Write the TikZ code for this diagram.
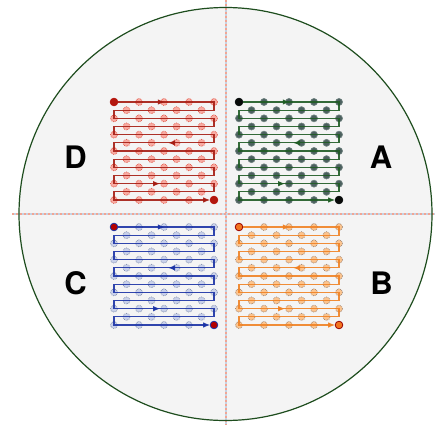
\documentclass[tikz,border=0pt]{standalone}
\usepackage{fontspec}
\setmainfont{TeX Gyre Heros}
\usetikzlibrary{arrows.meta,decorations.markings,calc}

\definecolor{ringgreen}{HTML}{1E4D1E}
\definecolor{diskgray}{HTML}{F4F4F4}
\definecolor{axisred}{HTML}{F2A593}
\definecolor{axisblue}{HTML}{C4D3E4}
% quadrant D (red)
\definecolor{dLine}{HTML}{A51C12}
\definecolor{dFill}{HTML}{F8ABA2}
\definecolor{dRim}{HTML}{E0503F}
% quadrant A (green)
\definecolor{aLine}{HTML}{1F5C24}
\definecolor{aFill}{HTML}{4B605E}
\definecolor{aRim}{HTML}{6F817F}
% quadrant C (blue)
\definecolor{cLine}{HTML}{1B33A6}
\definecolor{cFill}{HTML}{C9D1EA}
\definecolor{cRim}{HTML}{7A88A8}
% quadrant B (orange)
\definecolor{bLine}{HTML}{F08224}
\definecolor{bFill}{HTML}{FCC48E}
\definecolor{bRim}{HTML}{988070}

\tikzset{
  spot/.style={circle, inner sep=0pt, outer sep=0pt, minimum size=7pt, line width=0.7pt},
  dspot/.style={spot, fill=dFill, draw=dRim, densely dotted},
  aspot/.style={spot, fill=aFill, draw=aRim},
  cspot/.style={spot, fill=cFill, draw=cRim, densely dotted},
  bspot/.style={spot, fill=bFill, draw=bRim, densely dotted},
  bigspot/.style={circle, inner sep=0pt, outer sep=0pt, minimum size=7.6pt, line width=0.8pt},
  dbig/.style={bigspot, fill=dLine!85!red, draw=dLine!80!red},
  abig/.style={bigspot, fill=black!90!aFill, draw=black!85!aFill},
  cbig/.style={bigspot, fill=red!70!black, draw=cLine},
  bbig/.style={bigspot, fill=bLine!90!red, draw=red!60!black},
  scanline/.style={line width=1.1pt, draw opacity=0.9, -{Latex[length=7pt,width=5.5pt]},
    postaction=decorate,
    decoration={markings,
      mark=at position 47pt with {\arrow{Latex[length=7pt,width=5.5pt]}},
      mark=at position 583pt with {\arrow{Latex[length=7pt,width=5.5pt]}},
      mark=at position 1124pt with {\arrow{Latex[length=7pt,width=5.5pt]}}}},
  quadlabel/.style={font=\bfseries\fontsize{31}{31}\selectfont, inner sep=0pt}
}

% #1 name, #2 left x, #3 top y, #4 spot style, #5 line colour, #6 end-spot style
\newcommand\scanquad[6]{%
  \foreach \r in {0,...,12}{
    \coordinate (#1-L-\r) at (#2, #3+\r*98/12);
    \coordinate (#1-R-\r) at (#2+100, #3+\r*98/12);
  }
  \foreach \r in {0,2,...,12}{
    \foreach \c in {0,...,4}{
      \node[#4] (#1-p-\r-\c) at ($(#1-L-\r)+(25*\c,0)$) {};
    }
  }
  \foreach \r in {1,3,...,11}{
    \foreach \c in {0,...,3}{
      \node[#4] (#1-p-\r-\c) at ($(#1-L-\r)+(12.5+25*\c,0)$) {};
    }
  }
  \node[#6] (#1-s) at (#1-L-0) {};
  \node[#6] (#1-e) at (#1-R-12) {};
  \draw[scanline, color=#5] (#1-s) -- (#1-R-0)
    \foreach \k [evaluate=\k as \a using int(2*\k+1),
                 evaluate=\k as \b using int(2*\k+2)] in {0,...,4}
      { -- (#1-R-\a) -- (#1-L-\a) -- (#1-L-\b) -- (#1-R-\b) }
    -- (#1-R-11) -- (#1-L-11) -- (#1-L-12) -- (#1-e);
}

\begin{document}
\begin{tikzpicture}[x=1pt, y=-1pt]
  \useasboundingbox (0,0) rectangle (435,425);
  \fill[white] (0,0) rectangle (435,425);

  % wafer disk
  \node[circle, minimum size=413pt, inner sep=0pt, fill=diskgray] (disk) at (225.5,214) {};

  % dashed axes
  \coordinate (vTop) at (226,0);
  \coordinate (vBot) at (226,425);
  \coordinate (hL) at (12,214);
  \coordinate (hR) at (435,214);
  \draw[axisblue, line width=1.2pt] (vTop) -- (vBot);
  \draw[axisred, line width=1.2pt, dash pattern=on 2pt off 2pt] (vTop) -- (vBot);
  \draw[axisblue, line width=1.2pt] (hL) -- (hR);
  \draw[axisred, line width=1.2pt, dash pattern=on 2pt off 2pt] (hL) -- (hR);

  % wafer rim
  \draw[ringgreen, line width=1.2pt] (disk.center) circle[radius=206.5pt];

  % scan patterns
  \scanquad{D}{114}{102}{dspot}{dLine}{dbig}
  \scanquad{A}{239}{102}{aspot}{aLine}{abig}
  \scanquad{C}{114}{227}{cspot}{cLine}{cbig}
  \scanquad{B}{239}{227}{bspot}{bLine}{bbig}

  % quadrant labels
  \node[quadlabel] (labD) at (75.5,157) {D};
  \node[quadlabel] (labA) at (381,157) {A};
  \node[quadlabel] (labC) at (75.5,283) {C};
  \node[quadlabel] (labB) at (381.5,283) {B};
\end{tikzpicture}
\end{document}
